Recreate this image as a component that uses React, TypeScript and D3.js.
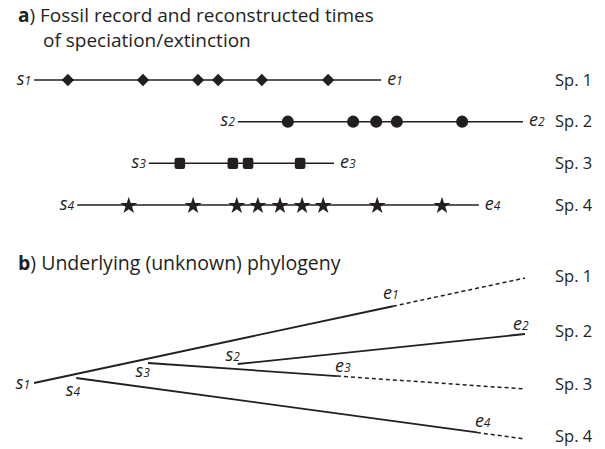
import React from "react";
import * as d3 from "d3";

// ---------- data ----------
const species = ["Sp. 1", "Sp. 2", "Sp. 3", "Sp. 4"];
const speciesIndex = ["1", "2", "3", "4"];
const markerShapes = ["diamond", "circle", "square", "star"];

// panel a: reconstructed times (time units, 0 = s1, 100 = present)
const speciation = [0, 41.5, 23.4, 8.8];
const extinction = [70.7, 99.6, 61.1, 90.6];
const fossils1 = [6.9, 22.2, 33.4, 37.5, 46.4, 59.9];
const fossils2 = [51.7, 65.0, 69.7, 73.9, 87.2];
const fossils3 = [29.7, 40.5, 43.6, 54.2];
const fossils4 = [19.3, 32.4, 41.3, 45.6, 50.1, 54.6, 58.9, 69.9, 83.1];
const fossils = [fossils1, fossils2, fossils3, fossils4];

// panel b: underlying phylogeny (time, vertical position units)
const present = 100;
const treeStartTime = [0, 41.5, 23.2, 8.6];
const treeEndTime = [73.1, 99.6, 61.7, 90.2];
const treeStartPos = [67, 86, 87, 72];
const treePresentPos = [172, 116, 61, 11];

// ---------- layout / style ----------
const W = 605;
const H = 449;
const ink = "#231f20";
const font = "'Open Sans', 'Noto Sans', sans-serif";

const x = d3.scaleLinear().domain([0, 100]).range([34, 525]);
const rowY = d3.scalePoint<string>().domain(species).range([80, 205]);
const yB = d3.scaleLinear().domain([0, 180]).range([450, 270]);

// label offsets for panel b (dx, dy, anchor)
const sOffsets = [
  { dx: -4, dy: 6, anchor: "end" },
  { dx: 2, dy: -3, anchor: "end" },
  { dx: 2, dy: 14, anchor: "end" },
  { dx: 4, dy: 18, anchor: "end" },
];
const eOffsets = [
  { dx: -10, dy: -7 },
  { dx: -10, dy: -4 },
  { dx: -2, dy: -4 },
  { dx: -2, dy: -5 },
];
const spLabelDy = [4, 3, 1, 3];

const diamondPath = d3.symbol().type(d3.symbolSquare).size(76)() as string;
const circlePath = d3.symbol().type(d3.symbolCircle).size(115)() as string;
const starPath = d3.symbol().type(d3.symbolStar).size(90)() as string;

function Marker({ shape, cx, cy }: { shape: string; cx: number; cy: number }) {
  if (shape === "diamond")
    return <path d={diamondPath} transform={`translate(${cx},${cy}) rotate(45)`} fill={ink} />;
  if (shape === "circle") return <path d={circlePath} transform={`translate(${cx},${cy})`} fill={ink} />;
  if (shape === "square")
    return <rect x={cx - 5.3} y={cy - 5.6} width={10.6} height={11.2} rx={2.2} fill={ink} />;
  return <path d={starPath} transform={`translate(${cx},${cy + 0.8})`} fill={ink} />;
}

function Sub({ letter, idx, px, py, anchor }: { letter: string; idx: string; px: number; py: number; anchor?: string }) {
  return (
    <text x={px} y={py} fontStyle="italic" fill={ink} textAnchor={anchor || "start"} fontFamily={font}>
      <tspan fontSize={18}>{letter}</tspan>
      <tspan fontSize={12}>{idx}</tspan>
    </text>
  );
}

export default function App() {
  return (
    <svg
      width={W}
      height={H}
      viewBox={`0 0 ${W} ${H}`}
      style={{ position: "absolute", left: 0, top: 0, background: "#fff" }}
      fontFamily={font}
    >
      <rect width={W} height={H} fill="#fff" />
      {/* Panel a title */}
      <text x={18} y={22} fontSize={19} fill={ink}>
        <tspan fontWeight="bold">a</tspan>) Fossil record and reconstructed times
      </text>
      <text x={43} y={47} fontSize={19} fill={ink}>
        of speciation/extinction
      </text>

      {species.map((sp, i) => {
        const y = rowY(sp) as number;
        const x0 = x(speciation[i]);
        const x1 = x(extinction[i]);
        return (
          <g key={sp}>
            <line x1={x0} x2={x1} y1={y} y2={y} stroke={ink} strokeWidth={1.5} />
            {fossils[i].map((t, j) => (
              <Marker key={j} shape={markerShapes[i]} cx={x(t)} cy={y} />
            ))}
            <Sub letter="s" idx={speciesIndex[i]} px={x0 - 3} py={y + 4.5} anchor="end" />
            <Sub letter="e" idx={speciesIndex[i]} px={x1 + 6} py={y + 4.5} />
            <text x={555} y={y + 5.5} fontSize={16.5} fill={ink}>
              {sp}
            </text>
          </g>
        );
      })}

      {/* Panel b title */}
      <text x={18} y={270} fontSize={19.5} fill={ink}>
        <tspan fontWeight="bold">b</tspan>) Underlying (unknown) phylogeny
      </text>

      {species.map((sp, i) => {
        const t0 = treeStartTime[i];
        const te = treeEndTime[i];
        const p0 = treeStartPos[i];
        const pp = treePresentPos[i];
        const pe = p0 + ((pp - p0) * (te - t0)) / (present - t0);
        const sx = x(t0), sy = yB(p0);
        const ex = x(te), ey = yB(pe);
        const px = x(present), py = yB(pp);
        const extinct = present - te > 1;
        return (
          <g key={"b" + sp}>
            <line x1={sx} y1={sy} x2={extinct ? ex : px} y2={extinct ? ey : py} stroke={ink} strokeWidth={1.8} />
            {extinct && (
              <line x1={ex} y1={ey} x2={px} y2={py} stroke={ink} strokeWidth={1.5} strokeDasharray="4 3" />
            )}
            <Sub
              letter="s"
              idx={speciesIndex[i]}
              px={sx + sOffsets[i].dx}
              py={sy + sOffsets[i].dy}
              anchor={sOffsets[i].anchor}
            />
            <Sub letter="e" idx={speciesIndex[i]} px={ex + eOffsets[i].dx} py={ey + eOffsets[i].dy} />
            <text x={555} y={py + spLabelDy[i]} fontSize={16.5} fill={ink}>
              {sp}
            </text>
          </g>
        );
      })}
    </svg>
  );
}
